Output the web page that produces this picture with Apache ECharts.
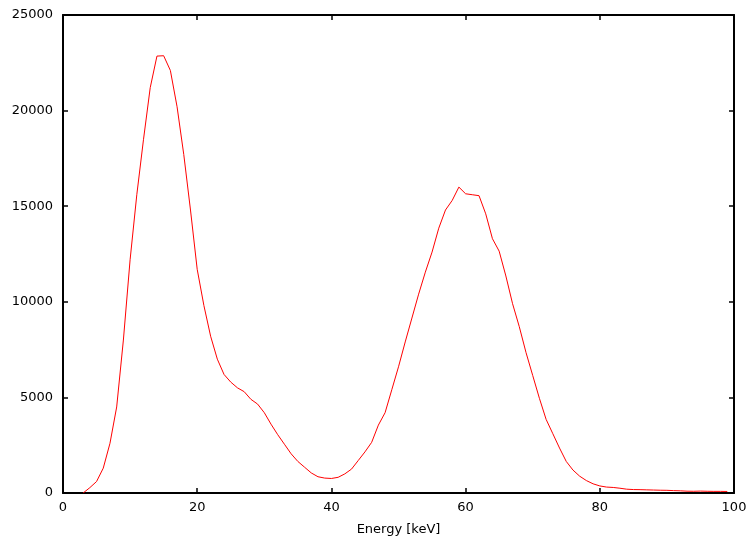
<!DOCTYPE html>
<html>
<head>
<meta charset="utf-8">
<script src="https://cdn.jsdelivr.net/npm/echarts@6/dist/echarts.min.js"></script>
<style>html,body{margin:0;padding:0;background:#fff}#c{width:751px;height:540px}</style>
</head>
<body>
<div id="c"></div>
<script>
var energy = [3,4,5,6,7,8,9,10,11,12,13,14,15,16,17,18,19,20,21,22,23,24,25,26,27,28,29,30,31,32,33,34,35,36,37,38,39,40,41,42,43,44,45,46,47,48,49,50,51,52,53,54,55,56,57,58,59,60,61,62,63,64,65,66,67,68,69,70,71,72,73,74,75,76,77,78,79,80,81,82,83,84,85,86,87,88,89,90,91,92,93,94,95,96,97,98,99];
var counts = [0,280,600,1300,2600,4500,8000,12200,15600,18500,21200,22850,22870,22100,20200,17700,14800,11700,9800,8200,7000,6200,5800,5500,5300,4900,4650,4200,3600,3050,2550,2050,1650,1350,1050,850,780,760,820,1000,1250,1700,2150,2650,3550,4200,5400,6600,7900,9150,10400,11550,12600,13850,14800,15300,16000,15650,15600,15550,14600,13300,12650,11350,9900,8700,7350,6150,4950,3850,3100,2350,1650,1200,880,650,480,370,310,290,250,200,180,175,165,155,145,140,125,115,95,90,100,90,85,85,80];
var xTicks = [0,20,40,60,80,100];
var yTicks = [0,5000,10000,15000,20000,25000];
var xLabel = 'Energy [keV]';

var chart = echarts.init(document.getElementById('c'), null, {renderer:'canvas'});
var font = 'DejaVu Sans';
var axisLine = {show:true, onZero:false, lineStyle:{color:'#000', width:2}};
var tick = {show:true, inside:true, length:5, lineStyle:{color:'#000', width:1.5}};
chart.setOption({
  animation:false,
  backgroundColor:'#fff',
  grid:{left:63, right:17, top:15, bottom:47, containLabel:false, outerBoundsMode:'none'},
  xAxis:[{
    type:'value', min:xTicks[0], max:xTicks[xTicks.length-1], interval:20,
    name:xLabel, nameLocation:'middle', nameGap:30,
    nameTextStyle:{color:'#000', fontFamily:font, fontSize:13},
    axisLine:axisLine, axisTick:tick, splitLine:{show:false},
    axisLabel:{color:'#000', fontFamily:font, fontSize:13, margin:8,
      formatter:function(v){return String(v);}}
  },{
    type:'value', position:'top', min:0, max:100, interval:20,
    axisLine:axisLine, axisTick:tick, splitLine:{show:false}, axisLabel:{show:false}
  }],
  yAxis:[{
    type:'value', min:yTicks[0], max:yTicks[yTicks.length-1], interval:5000,
    axisLine:axisLine, axisTick:tick, splitLine:{show:false},
    axisLabel:{color:'#000', fontFamily:font, fontSize:13, margin:10,
      formatter:function(v){return String(v);}}
  },{
    type:'value', position:'right', min:0, max:25000, interval:5000,
    axisLine:axisLine, axisTick:tick, splitLine:{show:false}, axisLabel:{show:false}
  }],
  series:[{
    type:'line', xAxisIndex:0, yAxisIndex:0,
    data: energy.map(function(e,i){return [e, counts[i]];}),
    showSymbol:false, symbol:'none',
    lineStyle:{color:'#ff0000', width:1},
    clip:true
  }]
});
</script>
</body>
</html>
